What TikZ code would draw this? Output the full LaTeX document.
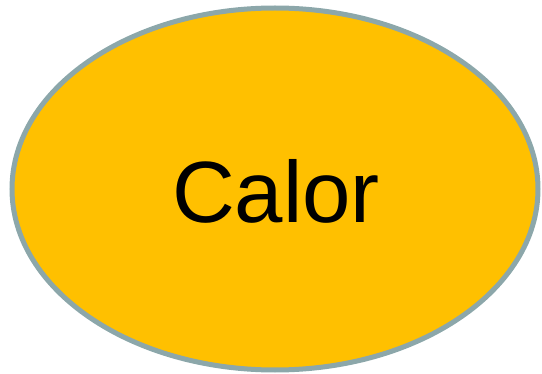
\documentclass[tikz,border=0pt]{standalone}
\usepackage{fontspec}
\setmainfont{Liberation Sans}
\usetikzlibrary{shapes.geometric}
\definecolor{amber}{HTML}{FFC000}
\definecolor{rim}{HTML}{8CA7AA}

\begin{document}
\begin{tikzpicture}[
  x=1pt, y=1pt,
  blob/.style={ellipse, draw=rim, fill=amber, line width=5pt, minimum width=526pt, minimum height=362pt, inner sep=0pt},
  label/.style={font=\fontsize{87}{96}\selectfont, anchor=base}
]
\useasboundingbox (0,0) rectangle (542,373);
\node[blob] (heat) at (275,184) {};
\node[label] (word) at (276,150) {Calor};
\end{tikzpicture}
\end{document}
